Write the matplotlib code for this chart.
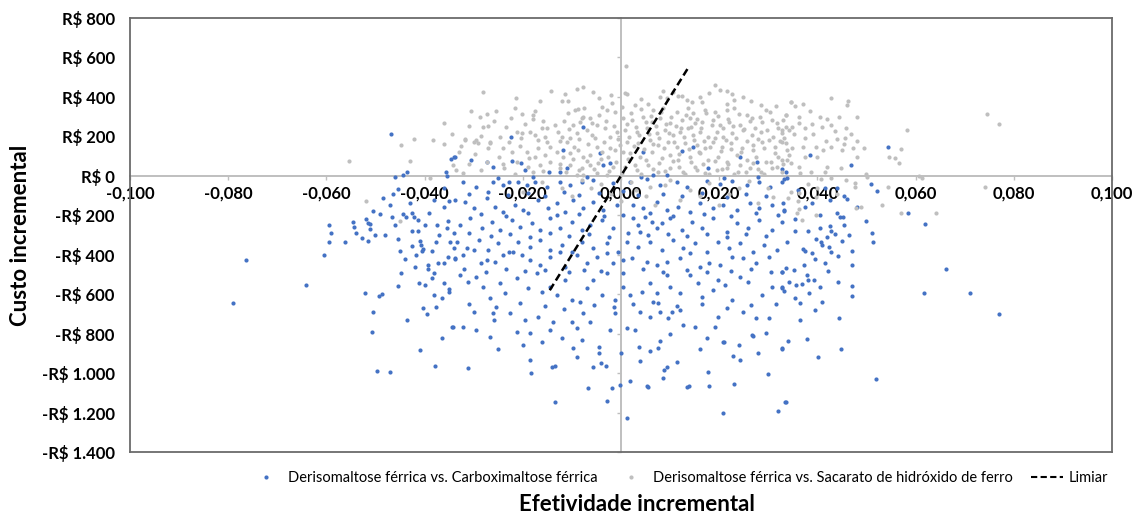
import matplotlib.pyplot as plt
from matplotlib.lines import Line2D
import numpy as np

plt.rcParams['font.family'] = ['Lato', 'DejaVu Sans']

# (efetividade incremental, custo incremental)
# Derisomaltose ferrica vs. Carboximaltose ferrica
dfc_pontos = [
    # esquerda, acima e perto do eixo
    (-0.0469, 213), (-0.046, -5), (-0.0443, 5), (-0.0435, 20), (-0.0347, 86), (-0.034, 96),
    (-0.0357, 20), (-0.0355, 0), (-0.0465, -91), (-0.049, -192), (-0.0467, -208), (-0.0443, -192),
    (-0.0437, -208), (-0.0426, -187), (-0.0422, -208), (-0.0414, -223), (-0.0414, -278), (-0.0353, -228),
    (-0.0355, -263), (-0.052, -218), (-0.0516, -238), (-0.0512, -243), (-0.0546, -233), (-0.0544, -258),
    (-0.054, -289), (-0.0512, -268), (-0.05, -299), (-0.0516, -329), (-0.0528, -314), (-0.0595, -248),
    (-0.0591, -289), (-0.0595, -334), (-0.0562, -334), (-0.0605, -400), (-0.0426, -354), (-0.0408, -349),
    (-0.0404, -370), (-0.0376, -334), (-0.0349, -334), (-0.0341, -364), (-0.0449, -380), (-0.0418, -400),
    (-0.0439, -420), (-0.0353, -410),
    (-0.038, -120), (-0.036, -160), (-0.040, -250), (-0.037, -300), (-0.039, -190), (-0.035, -130),
    (-0.041, -330), (-0.036, -60), (-0.034, -290), (-0.043, -140), (-0.048, -300), (-0.046, -250),
    (-0.0485, -110), (-0.047, -150), (-0.0455, -320), (-0.0425, -280), (-0.0375, -250), (-0.0455, -65),
    (-0.0505, -180), (-0.0385, -380),
    # esquerda, embaixo
    (-0.0763, -425), (-0.079, -643), (-0.0642, -552), (-0.0522, -592), (-0.0493, -608), (-0.0487, -597),
    (-0.0506, -689), (-0.0508, -790), (-0.0497, -987), (-0.0471, -992), (-0.0406, -380), (-0.0447, -491),
    (-0.0394, -451), (-0.0394, -471), (-0.038, -491), (-0.0372, -440), (-0.0337, -420), (-0.0412, -542),
    (-0.04, -552), (-0.0361, -542), (-0.0351, -572), (-0.0351, -587), (-0.038, -602), (-0.0376, -663),
    (-0.0404, -668), (-0.0435, -729), (-0.0345, -765), (-0.041, -881), (-0.0378, -962),
    (-0.042, -460), (-0.0385, -520), (-0.0365, -620), (-0.0455, -560), (-0.0395, -700), (-0.0365, -820),
    (-0.036, -440),
    # direita, embaixo
    (0.0374, -380), (0.039, -390), (0.0428, -385), (0.0443, -405), (0.0471, -451), (0.0327, -486),
    (0.0337, -466), (0.0353, -476), (0.0372, -451), (0.0378, -501), (0.0422, -481), (0.0343, -537),
    (0.0357, -552), (0.0368, -548), (0.038, -527), (0.0394, -527), (0.0406, -562), (0.0443, -537),
    (0.0327, -562), (0.0333, -582), (0.0382, -592), (0.0365, -643), (0.041, -638), (0.0471, -608),
    (0.0662, -471), (0.0617, -592), (0.0711, -592), (0.077, -699), (0.0341, -835), (0.0378, -825),
    (0.0327, -876), (0.0449, -876), (0.0402, -916), (0.052, -1028), (0.0335, -1149),
    (0.0395, -420), (0.0415, -440), (0.0355, -620), (0.0395, -680), (0.0445, -720), (0.047, -560),
    (0.0365, -730),
    # direita, perto do eixo
    (0.0544, 147), (0.0469, 56), (0.0386, 106), (0.0333, -15), (0.0339, -10), (0.0327, 35),
    (0.051, -40), (0.0522, -76), (0.0455, -101), (0.0461, -116), (0.0439, -61), (0.0416, -61),
    (0.0331, -137), (0.0333, -177), (0.0439, -187), (0.0447, -208), (0.0453, -208), (0.0585, -187),
    (0.0619, -243), (0.0355, -278), (0.038, -278), (0.0406, -263), (0.0426, -253), (0.0428, -278),
    (0.0435, -294), (0.0512, -289), (0.0514, -334), (0.0398, -319), (0.0408, -334), (0.041, -349),
    (0.042, -309), (0.0424, -359), (0.037, -370),
    (0.036, -70), (0.039, -140), (0.048, -160), (0.050, -230), (0.045, -330), (0.047, -380),
    (0.0355, -220), (0.0375, -160), (0.0405, -200), (0.0425, -120), (0.0455, -250), (0.0465, -300),
    # centro, acima do eixo
    (-0.0337, 96), (-0.0305, 81), (-0.0272, 71), (-0.026, 46), (-0.0223, 197), (-0.0221, 76),
    (-0.0203, 66), (-0.0195, 30), (-0.0146, 20), (-0.0124, 20), (-0.0118, 132), (-0.011, 40),
    (-0.0077, 248), (-0.0043, 116), (-0.0037, 56), (-0.0022, 66),
    (0.0045, 122), (0.0124, 127), (0.0146, 147), (0.0177, 40), (0.0242, 96), (0.0278, 71),
    (0.0337, 20), (0.0065, 5), (0.0093, 5),
    (-0.025, -10), (-0.018, -5), (-0.007, -8), (0.004, -5), (0.021, -10), (0.028, -5),
    # centro-esquerda, 0 a -400
    (-0.0321, -30), (-0.0296, -56), (-0.026, -30), (-0.024, -46), (-0.0229, -30), (-0.0209, -30),
    (-0.0191, -46), (-0.0175, -30), (-0.015, -56), (-0.0124, -30), (-0.0104, -46), (-0.0079, -30),
    (-0.0057, -20), (-0.0016, -35),
    (-0.031, -90), (-0.027, -80), (-0.023, -95), (-0.019, -85), (-0.0155, -100), (-0.0115, -80),
    (-0.0085, -95), (-0.0045, -85), (0.0005, -75), (0.0035, -95), (0.0085, -90), (0.0125, -100),
    (0.0165, -85), (0.0215, -105), (0.0255, -90), (0.0295, -100),
    (-0.0337, -122), (-0.0317, -132), (-0.03, -162), (-0.0272, -111), (-0.0256, -157), (-0.024, -182),
    (-0.0215, -147), (-0.0199, -172), (-0.0169, -122), (-0.0148, -162), (-0.013, -137), (-0.0114, -182),
    (-0.0097, -122), (-0.0077, -162), (-0.0057, -132), (-0.0037, -172), (-0.0008, -147),
    (-0.0285, -195), (-0.0235, -205), (-0.019, -190), (-0.013, -200), (-0.0085, -195), (-0.0035, -205),
    (0.0005, -200), (0.006, -190), (0.0105, -205), (0.017, -195), (0.0225, -205), (0.0275, -190),
    (0.032, -200),
    (-0.0327, -248), (-0.0307, -213), (-0.0282, -263), (-0.0262, -233), (-0.0246, -273), (-0.0221, -223),
    (-0.0205, -258), (-0.0181, -238), (-0.0164, -273), (-0.0144, -213), (-0.0124, -263), (-0.0099, -233),
    (-0.0079, -273), (-0.0063, -248), (-0.0039, -223), (-0.0016, -263),
    (-0.031, -290), (-0.0265, -305), (-0.0225, -295), (-0.0185, -310), (-0.0145, -290), (-0.0105, -305),
    (-0.0065, -295), (-0.0025, -310), (0.0015, -290), (0.0055, -300), (0.0095, -295), (0.0135, -305),
    (0.0175, -295), (0.0215, -310), (0.0255, -295), (0.0295, -305),
    (-0.0333, -334), (-0.0313, -364), (-0.029, -324), (-0.027, -375), (-0.025, -339), (-0.0229, -385),
    (-0.0209, -334), (-0.0185, -359), (-0.0164, -324), (-0.0144, -375), (-0.012, -349), (-0.0099, -385),
    (-0.0079, -334), (-0.0057, -364), (-0.0028, -339), (-0.0006, -385),
    # centro-direita, 0 a -400
    (0.0018, -30), (0.0053, -15), (0.0079, -46), (0.0114, -30), (0.0134, -56), (0.0175, -25),
    (0.0201, -40), (0.0227, -25), (0.0256, -46), (0.0282, -30), (0.0303, -56), (0.0329, -30),
    (0.0024, -147), (0.0045, -162), (0.0073, -132), (0.0093, -172), (0.0116, -157), (0.014, -182),
    (0.016, -137), (0.0187, -162), (0.0207, -147), (0.0236, -172), (0.0262, -137), (0.0282, -162),
    (0.0307, -147), (0.0333, -172),
    (0.0024, -213), (0.0035, -248), (0.0049, -208), (0.0063, -233), (0.0073, -263), (0.0083, -238),
    (0.0039, -284), (0.0099, -213), (0.0124, -273), (0.0144, -233), (0.0166, -263), (0.0187, -213),
    (0.0215, -284), (0.0236, -238), (0.0258, -263), (0.0282, -223), (0.0307, -273), (0.0329, -233),
    (0.0012, -334), (0.0035, -359), (0.0059, -334), (0.0083, -375), (0.0106, -324), (0.0126, -364),
    (0.015, -339), (0.0175, -385), (0.0197, -334), (0.0221, -364), (0.0242, -339), (0.0268, -385),
    (0.0292, -349), (0.0317, -375), (0.0339, -334),
    # centro, -400 a -500
    (-0.0337, -415), (-0.0321, -400), (-0.03, -375), (-0.0286, -440), (-0.0272, -425), (-0.0256, -435),
    (-0.024, -400), (-0.0219, -385), (-0.0201, -400), (-0.0185, -425), (-0.0164, -451), (-0.0144, -410),
    (-0.0124, -385), (-0.0114, -461), (-0.0089, -400), (-0.0069, -440), (-0.0049, -410), (-0.0028, -390),
    (-0.0016, -440), (0.0004, -425), (0.0022, -415), (0.0053, -435), (0.0073, -451), (0.0093, -435),
    (0.012, -415), (0.014, -390), (0.016, -461), (0.018, -440), (0.0201, -451), (0.0227, -410),
    (0.0248, -415), (0.0276, -440), (0.0302, -410), (0.0327, -486),
    (-0.032, -470), (-0.0275, -485), (-0.0235, -470), (-0.0195, -480), (-0.0155, -475), (-0.0105, -490),
    (-0.0075, -475), (-0.004, -480), (0.0005, -495), (0.0045, -470), (0.0085, -485), (0.0135, -475),
    (0.0175, -490), (0.0225, -480), (0.0265, -470), (0.0305, -485),
    # centro, -500 a -650
    (-0.0327, -501), (-0.0311, -537), (-0.0296, -511), (-0.028, -562), (-0.0266, -618), (-0.0246, -542),
    (-0.0236, -592), (-0.0211, -516), (-0.0189, -567), (-0.0171, -491), (-0.016, -587), (-0.0144, -562),
    (-0.013, -602), (-0.0114, -527), (-0.0099, -628), (-0.0083, -638), (-0.0069, -567), (-0.0057, -527),
    (-0.0039, -602), (-0.0028, -491), (-0.0012, -628), (0.0004, -562), (0.0018, -602), (0.0043, -587),
    (0.0059, -542), (0.0073, -592), (0.0093, -501), (0.0099, -562), (0.012, -592), (0.014, -501),
    (0.0156, -542), (0.0166, -613), (0.0187, -577), (0.0197, -527), (0.0211, -552), (0.0227, -628),
    (0.0242, -511), (0.0258, -537), (0.0288, -602), (0.0307, -562), (0.0327, -567),
    (-0.031, -650), (-0.0255, -665), (-0.0205, -645), (-0.0155, -660), (-0.0115, -675), (-0.0055, -655),
    (-0.0015, -665), (0.0025, -650), (0.0075, -645), (0.0115, -660), (0.0165, -650), (0.0215, -670),
    (0.0265, -655), (0.0315, -650),
    # centro, -650 a -850
    (-0.0343, -765), (-0.0321, -765), (-0.03, -689), (-0.0296, -780), (-0.0266, -815), (-0.026, -694),
    (-0.0258, -729), (-0.0225, -694), (-0.0211, -790), (-0.0195, -729), (-0.0185, -795), (-0.0169, -714),
    (-0.0144, -780), (-0.0138, -739), (-0.012, -820), (-0.0099, -739), (-0.0089, -770), (-0.0077, -694),
    (-0.0063, -739), (-0.0022, -780), (-0.0012, -694), (0.0012, -770), (0.0028, -780), (0.0039, -689),
    (0.0059, -714), (0.0065, -638), (0.0079, -689), (0.0095, -719), (0.0103, -689), (0.012, -678),
    (0.0126, -754), (0.015, -765), (0.0175, -820), (0.0191, -765), (0.0197, -714), (0.0207, -840),
    (0.0248, -689), (0.0266, -805), (0.0276, -719), (0.0296, -795), (0.0302, -719),
    # centro, abaixo de -850
    (-0.0311, -972), (-0.0185, -932), (-0.0183, -997), (-0.014, -967), (-0.0134, -962), (-0.0134, -1149),
    (-0.0097, -871), (-0.0089, -916), (-0.0067, -1078), (-0.0057, -967), (-0.0045, -866), (-0.0045, -896),
    (-0.0041, -947), (-0.003, -962), (-0.0028, -1139), (-0.0018, -1078), (-0.0002, -1058), (0.0012, -1230),
    (0.0018, -1038), (0.0037, -866), (0.0039, -937), (0.0053, -1063), (0.0055, -1068), (0.0075, -871),
    (0.0079, -835), (0.0085, -1023), (0.0087, -982), (0.0093, -967), (0.0114, -942), (0.0134, -1068),
    (0.0138, -1063), (0.0177, -992), (0.0179, -1063), (0.0209, -840), (0.0207, -1200), (0.0229, -911),
    (0.0231, -1053), (0.0242, -932), (0.0268, -810), (0.03, -1003), (0.0327, -871), (0.0319, -1190),
    (0.0337, -1149),
    (-0.025, -880), (-0.02, -860), (-0.008, -830), (0.0, -900), (0.006, -890), (0.016, -880),
    (0.024, -860), (0.01, -800), (-0.016, -840), (0.028, -900),
]

# Derisomaltose ferrica vs. Sacarato de hidroxido de ferro
dsh_pontos = [
    # esquerda
    (-0.0361, 268), (-0.0422, 187), (-0.0382, 182), (-0.0361, 162), (-0.0447, 157), (-0.043, 76),
    (-0.0554, 76), (-0.0343, 56), (-0.0388, -10), (-0.052, -127), (-0.0451, -228),
    (-0.0317, 187), (-0.0296, 182), (-0.033, 120), (-0.031, 60), (-0.0335, 30),
    (-0.0345, 210), (-0.0325, 150), (-0.031, 255), (-0.0298, 110), (-0.0285, 200), (-0.027, 140),
    (-0.0258, 280), (-0.0248, 95), (-0.0235, 250), (-0.0228, 170), (-0.0215, 345), (-0.0205, 150),
    (-0.0195, 265), (-0.0188, 90), (-0.0175, 330), (-0.0168, 140), (-0.0158, 280), (-0.015, 170),
    (-0.0165, 380), (-0.0255, 330), (-0.0305, 330), (-0.0238, 40), (-0.0285, 30), (-0.0215, 10),
    (-0.018, 20), (-0.0158, 25), (-0.0322, 15),
    # direita
    (0.0745, 314), (0.077, 263), (0.0741, -56), (0.0428, 395), (0.0463, 380), (0.0461, 359),
    (0.0347, 375), (0.037, 365), (0.0355, 354), (0.0481, 299), (0.042, 289), (0.0337, 309),
    (0.0583, 233), (0.0363, 268), (0.039, 263), (0.041, 248), (0.0428, 258), (0.0459, 243),
    (0.0374, 243), (0.0349, 248), (0.0327, 233), (0.0418, 177), (0.0441, 187), (0.0457, 192),
    (0.0481, 177), (0.0455, 162), (0.0495, 142), (0.0333, 192), (0.0327, 172), (0.0349, 142),
    (0.037, 147), (0.0398, 147), (0.0428, 147), (0.0451, 132), (0.0343, 106), (0.0374, 96),
    (0.04, 96), (0.0481, 96), (0.0546, 96), (0.0558, 90), (0.0571, 137), (0.0566, 66),
    (0.042, 46), (0.0363, 46), (0.0347, 66), (0.0327, 81), (0.0408, -15), (0.0428, -10),
    (0.0459, -20), (0.0502, -5), (0.05, 10), (0.0607, 0), (0.0613, -10), (0.0398, -106),
    (0.0363, -86), (0.0347, -81), (0.0477, -35), (0.0477, -56), (0.0544, -56), (0.0489, -157),
    (0.0479, -162), (0.0532, -147), (0.0571, -187), (0.0642, -187), (0.0398, -197), (0.0363, -167),
    (0.0359, -187), (0.0368, -223),
    (0.0352, 210), (0.0362, 300), (0.0375, 190), (0.0385, 330), (0.0392, 210), (0.0405, 300),
    (0.0412, 130), (0.0435, 225), (0.0445, 300), (0.0468, 210), (0.0472, 140), (0.0388, 20),
    (0.0415, 20), (0.0448, 40), (0.0365, 15),
    # centro-esquerda
    (-0.028, 425), (-0.0213, 395), (-0.0142, 430), (-0.0114, 415), (-0.0089, 440), (-0.0077, 450),
    (-0.0057, 425), (-0.012, 380), (-0.0108, 380), (-0.0288, 299), (-0.0272, 314), (-0.0223, 294),
    (-0.0201, 314), (-0.0179, 309), (-0.0179, 289), (-0.028, 248), (-0.027, 253), (-0.0108, 319),
    (-0.0093, 334), (-0.0087, 339), (-0.0077, 299), (-0.0079, 294), (-0.0063, 294), (-0.0039, 349),
    (-0.0028, 334), (-0.0018, 370), (-0.0012, 324), (-0.0317, 182), (-0.03, 172), (-0.0292, 167),
    (-0.0266, 172), (-0.0246, 197), (-0.0211, 223), (-0.0201, 218), (-0.0203, 192), (-0.0185, 223),
    (-0.0175, 207), (-0.0169, 182), (-0.0154, 197), (-0.016, 243), (-0.015, 243), (-0.0128, 223),
    (-0.012, 197), (-0.011, 172), (-0.0104, 192), (-0.0089, 218), (-0.0097, 258), (-0.0083, 273),
    (-0.0069, 233), (-0.0059, 207), (-0.0049, 258), (-0.0032, 243), (-0.0022, 197), (-0.0008, 223),
    (-0.0266, 167), (-0.024, 142), (-0.0221, 122), (-0.0191, 122), (-0.0175, 96), (-0.0154, 106),
    (-0.0144, 147), (-0.013, 122), (-0.0118, 96), (-0.0104, 116), (-0.0087, 132), (-0.0077, 96),
    (-0.0063, 106), (-0.0049, 147), (-0.0039, 122), (-0.0026, 96), (-0.0012, 132), (-0.0002, 157),
    (-0.0272, 71), (-0.024, 61), (-0.0211, 71), (-0.0189, 46), (-0.0164, 56), (-0.0144, 71),
    (-0.0124, 41), (-0.0104, 56), (-0.0079, 41), (-0.0063, 56), (-0.0047, 66), (-0.0016, 46),
    (-0.0089, 5), (-0.0077, 5), (-0.0049, 15), (-0.0028, 5),
    (-0.0135, 260), (-0.0125, 175), (-0.0115, 280), (-0.0105, 235), (-0.0095, 145), (-0.0085, 185),
    (-0.0075, 345), (-0.0068, 160), (-0.0058, 270), (-0.0052, 190), (-0.0045, 310), (-0.0035, 170),
    (-0.003, 280), (-0.0022, 140), (-0.0015, 255), (-0.0006, 185),
    (-0.0125, 60), (-0.0112, 20), (-0.0098, 85), (-0.0085, 30), (-0.007, 75), (-0.0055, 35),
    (-0.004, 85), (-0.0025, 25), (-0.001, 70),
    (-0.002, 410), (-0.0045, 395),
    # centro-direita
    (0.001, 557), (0.0008, 420), (0.0191, 461), (0.0201, 435), (0.0215, 430), (0.0227, 415),
    (0.0012, 415), (0.0028, 359), (0.0079, 400), (0.0093, 395), (0.0106, 425), (0.0116, 405),
    (0.0134, 385), (0.016, 400), (0.0166, 375), (0.0231, 385), (0.0248, 400),
    (0.004, 390), (0.0085, 430), (0.0125, 405), (0.018, 420), (0.0145, 375), (0.0265, 380),
    (0.0285, 360), (0.0055, 365), (0.0215, 365), (0.0315, 355),
    (0.0065, 334), (0.0085, 344), (0.0114, 324), (0.0136, 344), (0.0146, 319), (0.0171, 334),
    (0.0191, 324), (0.0215, 334), (0.0231, 344), (0.0256, 309), (0.0296, 334), (0.0303, 324),
    (0.0337, 309), (0.0347, 375),
    (0.0004, 294), (0.0022, 284), (0.0045, 299), (0.0063, 273), (0.0079, 294), (0.0099, 268),
    (0.0124, 284), (0.014, 294), (0.015, 268), (0.0166, 273), (0.0187, 284), (0.0201, 258),
    (0.0221, 273), (0.0242, 258), (0.0266, 294), (0.0288, 273), (0.0317, 268), (0.0337, 248),
    (0.0008, 233), (0.0032, 223), (0.0053, 243), (0.0073, 218), (0.0089, 233), (0.0106, 207),
    (0.012, 223), (0.0136, 243), (0.0146, 207), (0.016, 223), (0.0177, 197), (0.0195, 223),
    (0.0207, 197), (0.0227, 218), (0.0248, 233), (0.0266, 207), (0.0286, 223), (0.0309, 197),
    (0.0329, 218), (0.0343, 233),
    (0.0012, 172), (0.0035, 167), (0.0059, 182), (0.0075, 157), (0.0095, 172), (0.0114, 147),
    (0.013, 167), (0.0154, 157), (0.0171, 142), (0.0187, 172), (0.0205, 147), (0.0225, 167),
    (0.0246, 142), (0.0268, 157), (0.0288, 172), (0.0313, 147), (0.0337, 167),
    (0.0018, 116), (0.0039, 96), (0.0063, 122), (0.0083, 91), (0.0099, 106), (0.0116, 81),
    (0.014, 96), (0.016, 116), (0.0177, 81), (0.0197, 96), (0.0215, 71), (0.0236, 106),
    (0.0256, 81), (0.0276, 96), (0.0296, 71), (0.0319, 96), (0.0339, 81),
    (0.0008, 46), (0.0032, 30), (0.0055, 56), (0.0075, 20), (0.0099, 40), (0.0126, 20),
    (0.015, 46), (0.0171, 15), (0.0195, 30), (0.0215, 40), (0.0238, 20), (0.0262, 40),
    (0.0286, 20), (0.0307, 40), (0.0329, 20),
    (0.0002, 350), (0.0005, 120), (0.0012, 265), (0.0017, 195), (0.0021, 320), (0.0027, 150),
    (0.0031, 250), (0.0036, 205), (0.0041, 340), (0.0047, 135), (0.0051, 275), (0.0057, 210),
    (0.0061, 305), (0.0066, 160), (0.0071, 255), (0.0077, 190), (0.0081, 325), (0.0087, 140),
    (0.0091, 265), (0.0097, 215), (0.0102, 300), (0.0108, 170), (0.0112, 255), (0.0118, 110),
    (0.0123, 240), (0.0128, 195), (0.0133, 310), (0.0139, 135), (0.0143, 250), (0.0149, 180),
    (0.0155, 290), (0.0159, 120), (0.0164, 245), (0.0169, 175), (0.0174, 320), (0.0181, 145),
    (0.0185, 260), (0.0191, 190), (0.0197, 305), (0.0203, 125), (0.0208, 240), (0.0213, 180),
    (0.0219, 290), (0.0224, 135), (0.0229, 255), (0.0234, 190), (0.0241, 315), (0.0245, 120),
    (0.0251, 235), (0.0257, 175), (0.0262, 280), (0.0268, 130), (0.0273, 245), (0.0279, 185),
    (0.0284, 300), (0.0291, 140), (0.0297, 230), (0.0302, 180), (0.0308, 285), (0.0313, 115),
    (0.0319, 245), (0.0324, 175), (0.0331, 285), (0.0338, 130),
    (0.0003, 15), (0.0015, 85), (0.0028, 55), (0.004, 10), (0.0052, 80), (0.0065, 35),
    (0.0078, 65), (0.009, 25), (0.0105, 75), (0.0118, 45), (0.013, 10), (0.0142, 70),
    (0.0155, 30), (0.0168, 60), (0.018, 10), (0.0192, 75), (0.0205, 35), (0.0218, 60),
    (0.023, 10), (0.0242, 55), (0.0255, 20), (0.0268, 65), (0.028, 35), (0.0292, 10),
    (0.0305, 70), (0.0318, 45), (0.033, 60),
    # abaixo do eixo, misturados aos azuis
    (-0.008, -20), (-0.004, -40), (0.002, -30), (0.006, -55), (0.01, -20), (0.014, -70),
    (0.018, -35), (0.022, -90), (0.026, -25), (0.03, -60), (0.034, -110), (0.038, -40),
    (-0.012, -60), (-0.016, -30), (-0.02, -80), (0.012, -120), (0.02, -150), (0.028, -140),
    (0.005, -100), (-0.002, -90),
    (-0.006, -60), (0.003, -70), (0.009, -45), (0.016, -100), (0.024, -60), (0.031, -105),
    (0.036, -130), (0.04, -60), (0.044, -90), (-0.01, -100), (0.007, -150), (0.0, -130),
]

# limiar de disposicao a pagar
limiar_x = [-0.0145, 0.0139]
limiar_y = [-580, 556]

x_ticks = [-0.1, -0.08, -0.06, -0.04, -0.02, 0.0, 0.02, 0.04, 0.06, 0.08, 0.1]
x_labels = ['-0,100', '-0,080', '-0,060', '-0,040', '-0,020', '0,000',
            '0,020', '0,040', '0,060', '0,080', '0,100']
y_ticks = [800, 600, 400, 200, 0, -200, -400, -600, -800, -1000, -1200, -1400]
y_labels = ['R$ 800', 'R$ 600', 'R$ 400', 'R$ 200', 'R$ 0', '-R$ 200', '-R$ 400',
            '-R$ 600', '-R$ 800', '-R$ 1.000', '-R$ 1.200', '-R$ 1.400']

azul = '#4472C4'
cinza = '#BFBFBF'

dfc = np.array(dfc_pontos)
dsh = np.array(dsh_pontos)

fig = plt.figure(figsize=(11.32, 5.18), dpi=100)
ax = fig.add_axes([0.1148, 0.1274, 0.8675, 0.8378])
ax.set_xlim(-0.1, 0.1)
ax.set_ylim(-1400, 800)

ax.scatter(dfc[:, 0], dfc[:, 1], s=9, color=azul, linewidths=0, zorder=3)
ax.scatter(dsh[:, 0], dsh[:, 1], s=9, color=cinza, linewidths=0, zorder=3)
ax.plot(limiar_x, limiar_y, color='black', lw=1.8, dashes=(3, 1.6), zorder=4)

# moldura da area do grafico
for s in ax.spines.values():
    s.set_color('#6b6b6b')
    s.set_linewidth(1.3)
ax.set_xticks([])
ax.set_yticks(y_ticks, labels=y_labels)
ax.tick_params(axis='y', length=0, pad=11, labelsize=12)
for t in ax.get_yticklabels():
    t.set_fontweight('bold')

# eixos cruzando na origem
y0 = (0 - ax.get_ylim()[0]) / (ax.get_ylim()[1] - ax.get_ylim()[0])
secx = ax.secondary_xaxis(y0)
secx.set_alignment('bottom')
secx.spines['bottom'].set_color(cinza)
secx.spines['bottom'].set_linewidth(1.4)
secx.set_xticks(x_ticks, labels=x_labels)
secx.tick_params(axis='x', length=3, width=1, color=cinza, pad=4, labelsize=12)
for t in secx.get_xticklabels():
    t.set_fontweight('bold')

secy = ax.secondary_yaxis(0.5)
secy.set_alignment('left')
secy.spines['left'].set_color(cinza)
secy.spines['left'].set_linewidth(1.4)
secy.set_yticks(y_ticks, labels=[])
secy.tick_params(axis='y', length=3, width=1, color=cinza)

ax.set_xlabel('Efetividade incremental', fontsize=16, fontweight='bold', labelpad=30)
ax.xaxis.label.set_x(0.516)
ax.set_ylabel('Custo incremental', fontsize=16, fontweight='bold', labelpad=8)

handles = [
    Line2D([], [], ls='none', marker='o', ms=3, color=azul, mew=0),
    Line2D([], [], ls='none', marker='o', ms=3, color=cinza, mew=0),
    Line2D([], [], color='black', lw=1.5, dashes=(3, 1.6)),
]
names = ['Derisomaltose férrica vs. Carboximaltose férrica',
         'Derisomaltose férrica vs. Sacarato de hidróxido de ferro',
         'Limiar']
fig.legend(handles, names, loc='center', bbox_to_anchor=(0.6, 0.077), ncol=3,
           frameon=False, fontsize=10.5, handlelength=2.2, handletextpad=0.4,
           columnspacing=1.2)

fig.savefig('out.png', dpi=100)
